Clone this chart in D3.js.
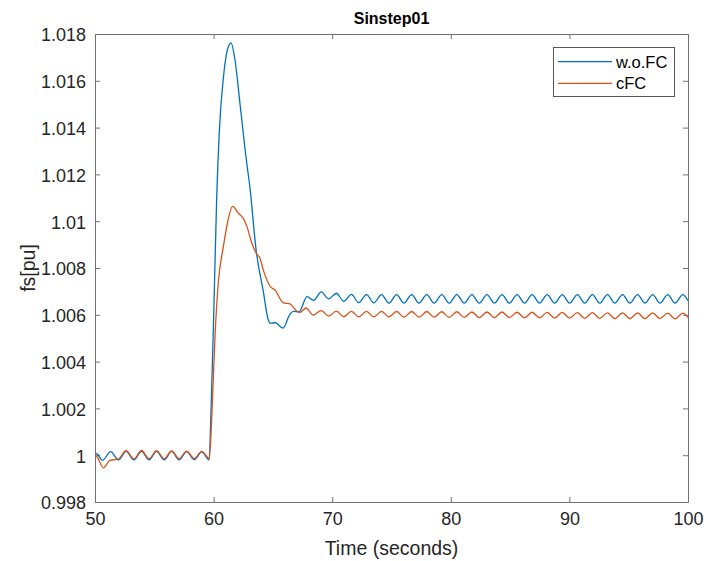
<!DOCTYPE html>
<html>
<head>
<meta charset="utf-8">
<script src="https://cdn.jsdelivr.net/npm/d3@7/dist/d3.min.js"></script>
<style>
  html, body { margin: 0; padding: 0; background: #ffffff; }
  svg { display: block; font-family: "Liberation Sans", Arial, Helvetica, sans-serif; }
</style>
</head>
<body>
<svg id="chart" width="704" height="561"></svg>
<script>
// ---------------- data ----------------
const chartTitle = "Sinstep01";
const xLabel = "Time (seconds)";
const yLabel = "fs[pu]";
const seriesNames = ["w.o.FC", "cFC"];
const xTicks = [50, 60, 70, 80, 90, 100];
const yTicks = [0.998, 1, 1.002, 1.004, 1.006, 1.008, 1.01, 1.012, 1.014, 1.016, 1.018];

// transient part (time [s], frequency [pu])
const wofcTransient = [
  [50.00, 1.00002], [50.15, 1.00007], [50.62, 0.99978], [51.33, 1.00015],
  [51.98, 0.99980], [52.62, 1.00016], [53.28, 0.99980], [53.92, 1.00016],
  [54.56, 0.99980], [55.19, 1.00016], [55.84, 0.99980], [56.46, 1.00016],
  [57.10, 0.99980], [57.73, 1.00015], [58.37, 0.99981], [59.00, 1.00014],
  [59.62, 0.99980], [59.80, 1.00220], [60.00, 1.00580], [60.25, 1.01080],
  [60.50, 1.01400], [60.82, 1.01610], [61.15, 1.01730], [61.47, 1.01762],
  [61.80, 1.01690], [62.23, 1.01500], [62.79, 1.01250], [63.05, 1.01150],
  [63.60, 1.00870], [64.19, 1.00700], [64.60, 1.00580], [64.80, 1.00564],
  [65.20, 1.00566], [65.85, 1.00543], [66.44, 1.00603], [66.72, 1.00615],
  [67.20, 1.00612], [67.88, 1.00678], [68.43, 1.00662]
];
const cfcTransient = [
  [50.00, 1.00002], [50.20, 0.99992], [50.70, 0.99946], [51.26, 0.99978],
  [51.95, 0.99983], [52.62, 1.00019], [53.28, 0.99984], [53.92, 1.00020],
  [54.56, 0.99985], [55.19, 1.00019], [55.84, 0.99985], [56.46, 1.00018],
  [57.10, 0.99985], [57.73, 1.00017], [58.37, 0.99986], [59.00, 1.00016],
  [59.64, 0.99986], [59.85, 1.00170], [60.12, 1.00510], [60.40, 1.00740],
  [60.82, 1.00890], [61.20, 1.01000], [61.60, 1.01063], [62.08, 1.01035],
  [62.50, 1.01012], [62.79, 1.00980], [63.20, 1.00910], [63.63, 1.00860],
  [63.90, 1.00843], [64.20, 1.00790], [64.76, 1.00722], [65.18, 1.00706],
  [65.88, 1.00651], [66.44, 1.00647], [67.00, 1.00616], [67.28, 1.00610],
  [67.80, 1.00629], [68.40, 1.00599]
];

// steady oscillation part: alternating crest / trough times
const steadyTimes = [
  69.08, 69.70, 70.35, 70.97, 71.62, 72.24, 72.89, 73.51, 74.16, 74.78,
  75.43, 76.05, 76.70, 77.32, 77.97, 78.59, 79.24, 79.86, 80.51, 81.13,
  81.78, 82.40, 83.05, 83.67, 84.32, 84.94, 85.59, 86.21, 86.86, 87.48,
  88.13, 88.75, 89.40, 90.02, 90.67, 91.29, 91.94, 92.56, 93.21, 93.83,
  94.48, 95.10, 95.75, 96.37, 97.02, 97.64, 98.29, 98.91, 99.56, 100.00
];
const wofcSteady = [
  1.00698, 1.00668, 1.00692, 1.00658, 1.00687, 1.00652, 1.00686, 1.00651, 1.00686, 1.00650,
  1.00686, 1.00650, 1.00686, 1.00650, 1.00686, 1.00650, 1.00686, 1.00650, 1.00686, 1.00650,
  1.00686, 1.00650, 1.00686, 1.00650, 1.00686, 1.00650, 1.00686, 1.00650, 1.00686, 1.00650,
  1.00686, 1.00650, 1.00686, 1.00650, 1.00686, 1.00650, 1.00686, 1.00650, 1.00686, 1.00650,
  1.00686, 1.00650, 1.00686, 1.00650, 1.00686, 1.00650, 1.00686, 1.00650, 1.00686, 1.00660
];
const cfcSteady = [
  1.00618, 1.00594, 1.00616, 1.00592, 1.00615, 1.00591, 1.00615, 1.00591, 1.00615, 1.00591,
  1.00614, 1.00590, 1.00614, 1.00590, 1.00614, 1.00590, 1.00613, 1.00589, 1.00613, 1.00589,
  1.00612, 1.00588, 1.00612, 1.00588, 1.00612, 1.00588, 1.00611, 1.00587, 1.00611, 1.00587,
  1.00610, 1.00586, 1.00610, 1.00586, 1.00609, 1.00585, 1.00609, 1.00585, 1.00608, 1.00584,
  1.00608, 1.00584, 1.00608, 1.00584, 1.00608, 1.00584, 1.00607, 1.00583, 1.00607, 1.00588
];

const seriesColors = ["#0072BD", "#D95319"];

// ---------------- chart ----------------
const svg = d3.select("#chart");
const W = 704, H = 561;
const margin = { left: 95, right: W - 688, top: 34, bottom: H - 502 };
const x = d3.scaleLinear().domain([50, 100]).range([margin.left, W - margin.right]);
const y = d3.scaleLinear().domain([0.998, 1.018]).range([H - margin.bottom, margin.top]);

const wofc = wofcTransient.concat(steadyTimes.map((t, i) => [t, wofcSteady[i]]));
const cfc = cfcTransient.concat(steadyTimes.map((t, i) => [t, cfcSteady[i]]));
const allSeries = [wofc, cfc];

const textColor = "#262626";
const axisColor = "#707070";

svg.append("defs").append("clipPath").attr("id", "clip")
  .append("rect")
  .attr("x", x(50)).attr("y", y(1.018))
  .attr("width", x(100) - x(50)).attr("height", y(0.998) - y(1.018));

const yFmt = d => String(+d.toFixed(3));

// axes
const gB = svg.append("g").attr("transform", `translate(0,${y(0.998)})`)
  .call(d3.axisBottom(x).tickValues(xTicks).tickSizeInner(-5).tickSizeOuter(0).tickPadding(10).tickFormat(d3.format("d")));
const gT = svg.append("g").attr("transform", `translate(0,${y(1.018)})`)
  .call(d3.axisTop(x).tickValues(xTicks).tickSizeInner(-5).tickSizeOuter(0).tickFormat(""));
const gL = svg.append("g").attr("transform", `translate(${x(50)},0)`)
  .call(d3.axisLeft(y).tickValues(yTicks).tickSizeInner(-5).tickSizeOuter(0).tickPadding(9).tickFormat(yFmt));
const gR = svg.append("g").attr("transform", `translate(${x(100)},0)`)
  .call(d3.axisRight(y).tickValues(yTicks).tickSizeInner(-5).tickSizeOuter(0).tickFormat(""));

[gB, gT, gL, gR].forEach(g => {
  g.select(".domain").attr("stroke", axisColor).attr("stroke-width", 1);
  g.selectAll(".tick line").attr("stroke", axisColor).attr("stroke-width", 1);
  g.selectAll(".tick text").attr("fill", textColor).attr("font-size", 18)
    .attr("font-family", "'Liberation Sans', Arial, sans-serif");
});
gL.selectAll(".tick text").attr("dy", "0.38em");

// lines
const line = d3.line().x(d => x(d[0])).y(d => y(d[1])).curve(d3.curveMonotoneX);
svg.append("g").attr("clip-path", "url(#clip)")
  .selectAll("path.series")
  .data(allSeries)
  .join("path")
  .attr("class", "series")
  .attr("fill", "none")
  .attr("stroke", (d, i) => seriesColors[i])
  .attr("stroke-width", 1.3)
  .attr("stroke-linejoin", "round")
  .attr("d", line);

// title & labels
svg.append("text")
  .attr("x", (x(50) + x(100)) / 2).attr("y", 24)
  .attr("text-anchor", "middle").attr("font-weight", "bold")
  .attr("font-size", 16).attr("fill", "#000")
  .text(chartTitle);

svg.append("text")
  .attr("x", (x(50) + x(100)) / 2).attr("y", 555)
  .attr("text-anchor", "middle")
  .attr("font-size", 19.5).attr("fill", textColor)
  .text(xLabel);

svg.append("text")
  .attr("transform", `translate(35,${(y(0.998) + y(1.018)) / 2}) rotate(-90)`)
  .attr("text-anchor", "middle")
  .attr("font-size", 19.5).attr("fill", textColor)
  .text(yLabel);

// legend
const lg = svg.append("g");
lg.append("rect")
  .attr("x", 553.5).attr("y", 47.5).attr("width", 121).attr("height", 49)
  .attr("fill", "#fff").attr("stroke", "#555").attr("stroke-width", 1);
seriesNames.forEach((name, i) => {
  const cy = 61.7 + i * 21.6;
  lg.append("line")
    .attr("x1", 558).attr("x2", 612).attr("y1", cy).attr("y2", cy)
    .attr("stroke", seriesColors[i]).attr("stroke-width", 1.3);
  lg.append("text")
    .attr("x", 616).attr("y", cy + 5.8)
    .attr("font-size", 16.5).attr("fill", "#000")
    .text(name);
});
</script>
</body>
</html>
